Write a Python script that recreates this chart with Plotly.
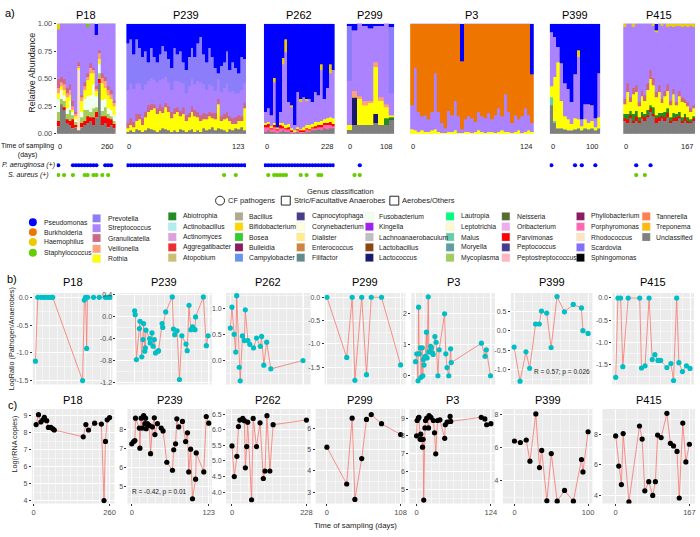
import plotly.graph_objects as go

W, H = 700, 537
FONT = "Liberation Sans, Arial, sans-serif"
TICK_GRAY = "#4D4D4D"

# ---------------------------------------------------------------- data
patients = ["P18", "P239", "P262", "P299", "P3", "P399", "P415"]
max_day = [260, 123, 228, 108, 124, 100, 167]

cf_pathogens = ["Pseudomonas", "Burkholderia", "Haemophilus", "Staphylococcus"]
anaerobes = ["Prevotella", "Streptococcus", "Granulicatella", "Veillonella", "Rothia"]
others = ["Abiotrophia", "Actinobacillus", "Actinomyces", "Aggregatibacter", "Atopobium",
          "Bacillus", "Bifidobacterium", "Bosea", "Bulleidia", "Campylobacter",
          "Capnocytophaga", "Corynebacterium", "Dialister", "Enterococcus", "Filifactor",
          "Fusobacterium", "Kingella", "Lachnoanaerobaculum", "Lactobacillus", "Lactococcus",
          "Lautropia", "Leptotrichia", "Malus", "Moryella", "Mycoplasma",
          "Neisseria", "Oribacterium", "Parvimonas", "Peptococcus", "Peptostreptococcus",
          "Phyllobacterium", "Porphyromonas", "Rhodococcus", "Scardovia", "Sphingomonas",
          "Tannerella", "Treponema", "Unclassified"]

genus_colors = {
    "Pseudomonas": "#0000FF", "Burkholderia": "#EE7600", "Haemophilus": "#EEC900",
    "Staphylococcus": "#66CD00",
    "Prevotella": "#8C7EFA", "Streptococcus": "#AB82FF", "Granulicatella": "#CD6889",
    "Veillonella": "#FFA07A", "Rothia": "#FFFF00",
    "Abiotrophia": "#228B22", "Actinobacillus": "#AEEEEE", "Actinomyces": "#DDA0DD",
    "Aggregatibacter": "#EE2C2C", "Atopobium": "#CDBE70",
    "Bacillus": "#B0AB8E", "Bifidobacterium": "#FFD700", "Bosea": "#32CD32",
    "Bulleidia": "#8B1C62", "Campylobacter": "#6495ED",
    "Capnocytophaga": "#483D8B", "Corynebacterium": "#FFFFE0", "Dialister": "#FFEC8B",
    "Enterococcus": "#CD853F", "Filifactor": "#5F8B8B",
    "Fusobacterium": "#F0FFF0", "Kingella": "#A020F0", "Lachnoanaerobaculum": "#BEBEBE",
    "Lactobacillus": "#8B4513", "Lactococcus": "#191970",
    "Lautropia": "#00FF7F", "Leptotrichia": "#FFFACD", "Malus": "#66CDAA",
    "Moryella": "#5F9EA0", "Mycoplasma": "#A2CD5A",
    "Neisseria": "#556B2F", "Oribacterium": "#EEAEEE", "Parvimonas": "#FF0000",
    "Peptococcus": "#473C8B", "Peptostreptococcus": "#FFB6C1",
    "Phyllobacterium": "#8B1C62", "Porphyromonas": "#FF69B4", "Rhodococcus": "#FFE4C4",
    "Scardovia": "#836FFF", "Sphingomonas": "#000000",
    "Tannerella": "#FF7F50", "Treponema": "#FFB90F", "Unclassified": "#7F7F7F",
}

# --- panel a: relative abundance per sample (stacked) ---
p18_unclassified = [.07, .27, .22, .10, .08, .05, .06, .03, .06, .08, .10, .12, .08, .15, .46, .08, .10, .06, .08, .05]
p18_parvimonas = [.05, 0, .02, .03, .04, .08, .02, 0, .04, .04, .06, .03, .07, .05, .04, .08, .06, .08, .05, .04]
p18_mycoplasma = [.08, .05, .06, .05, .10, .04, .03, 0, .05, .10, .06, .05, .08, .04, .05, .05, .08, .04, .03, .03]
p18_fusobacterium = [.12, .08, .05, .05, .08, .03, .02, 0, .05, .10, .12, .15, .22, .10, .08, .10, .08, .05, .06, .05]
p18_rhodococcus = [0, 0, 0, 0, 0, 0, 0, .55, 0, 0, 0, 0, 0, 0, 0, 0, 0, 0, 0, 0]
p18_rothia = [.05, .03, .05, .10, .05, .02, .03, .02, .10, .08, .15, .20, .10, .05, .05, .15, .10, .12, .10, .08]
p18_veillonella = [.05, .04, .05, .04, .05, .03, .02, .02, .03, .03, .03, .05, .03, .02, .05, .05, .06, .05, .04, .03]
p18_granulicatella = [.08, .05, .05, .05, .05, .05, .02, .03, .02, .04, .03, .04, .02, .02, .03, .04, .04, .03, .04, .02]
p18_streptococcus = [.45, .48, .50, .58, .55, .70, .80, .35, .65, .53, .42, .36, .40, .47, .24, .45, .48, .57, .60, .70]
p18_staphylococcus = [0, 0, 0, 0, 0, 0, 0, 0, 0, 0, .03, 0, 0, 0, 0, 0, 0, 0, 0, 0]
p18_haemophilus = [.05, 0, 0, 0, 0, 0, 0, 0, 0, 0, 0, 0, 0, 0, 0, 0, 0, 0, 0, 0]
p18_pseudomonas = [0, 0, 0, 0, 0, 0, 0, 0, 0, 0, 0, 0, 0, .10, 0, 0, 0, 0, 0, 0]

p239_unclassified = [.02, .03, .02, .04, .03, .02, .03, .05, .04, .03, .02, .03, .05, .04, .03, .02, .03, .02, .04, .03, .02,
                     .03, .04, .02, .03, .02, .05, .03, .04, .06, .03, .05, .04, .03, .02, .04, .03, .05, .04, .06, .03]
p239_rothia = [.03, .05, .04, .08, .10, .06, .12, .15, .18, .20, .16, .18, .14, .20, .17, .12, .15, .18, .12, .15, .10,
               .12, .16, .14, .12, .10, .08, .10, .12, .08, .10, .22, .08, .10, .12, .08, .06, .04, .08, .06, .20]
p239_granulicatella = [.05, .06, .05, .06, .05, .06, .05, .06, .05, .04, .05, .06, .05, .04, .05, .06, .05, .04, .05, .06, .05,
                       .04, .05, .06, .05, .05, .06, .05, .04, .05, .06, .05, .04, .05, .06, .04, .05, .06, .05, .04, .05]
p239_streptococcus = [.30, .32, .30, .28, .28, .26, .25, .22, .24, .22, .24, .22, .26, .24, .22, .20, .25, .24, .26, .22, .20,
                      .24, .25, .23, .28, .30, .26, .22, .25, .24, .20, .18, .22, .24, .26, .22, .25, .22, .20, .24, .18]
p239_prevotella = [.42, .40, .31, .40, .32, .30, .30, .17, .27, .21, .18, .23, .30, .23, .21, .20, .30, .24, .28, .19, .21,
                   .27, .28, .25, .34, .41, .27, .25, .33, .27, .21, .05, .24, .23, .29, .20, .26, .23, .18, .30, .22]
p239_pseudomonas = [.18, .14, .28, .14, .22, .30, .25, .35, .22, .30, .35, .28, .20, .25, .32, .40, .22, .28, .25, .35, .42,
                    .30, .22, .30, .18, .12, .28, .35, .22, .30, .40, .45, .38, .35, .25, .42, .35, .40, .45, .30, .32]

p262_unclassified = [.02, .03, .02, .02, .01, .02, .03, .02, .02, .01, .01, .02, .01, .01, .02, .02, .03, .03, .04, .03, .05, .04, .05, .05]
p262_porphyromonas = [.04, .03, .02, .04, .02, .03, .02, .02, .02, .01, .01, .01, .01, .01, .02, .01, .02, .02, .02, .03, .03, .04, .03, .02]
p262_parvimonas = [.02, .03, .01, .02, .01, .03, .02, .01, .02, .01, 0, .01, .01, .01, .01, .01, .01, .02, .02, .02, .02, .02, .03, .02]
p262_rothia = [.02, .02, .02, .02, .01, .02, .03, .03, .03, .02, .01, .02, .01, .03, .03, .04, .03, .04, .03, .04, .03, .04, .04, .05]
p262_streptococcus = [.10, .12, .10, .37, .01, .10, .53, .66, .20, .19, .05, .32, .25, .27, .22, .24, .20, .27, .24, .46, .19, .28, .40, .44]
p262_haemophilus = [0, 0, 0, .04, 0, 0, .06, .12, 0, .02, 0, 0, .03, 0, .02, 0, 0, 0, 0, .05, 0, 0, .08, 0]
p262_pseudomonas = [.80, .77, .83, .49, .94, .80, .31, .14, .71, .74, .92, .62, .68, .67, .68, .68, .71, .62, .65, .37, .68, .58, .37, .42]

p299_unclassified = [.03, .08, .08, .08, .08, .10, .08, .08, .13]
p299_lactococcus = [0, .25, 0, 0, 0, .08, 0, 0, 0]
p299_abiotrophia = [0, 0, 0, 0, 0, 0, 0, .06, .02]
p299_rothia = [.05, 0, .24, .18, .20, .43, .22, .10, .02]
p299_veillonella = [0, .06, .02, .04, .02, .04, .03, .03, 0]
p299_streptococcus = [.40, .55, .66, .68, .66, .33, .65, .73, .20]
p299_prevotella = [.50, 0, 0, 0, 0, 0, 0, 0, .60]
p299_pseudomonas = [.02, .06, 0, .02, .04, .02, .02, 0, .03]

p3_rothia = [.04, .03, .02, .03, .02, .02, .03, .04, .02, .01, .01, .02, .02, .03, .01, .01, .02, .02, .01,
             .02, .03, .02, .01, .02, .02, .01, .02, .03, .02, .02, .01, .02, .03, .01, .02, .03, .02]
p3_streptococcus = [.22, .57, .18, .13, .15, .11, .17, .51, .18, .09, .04, .19, .15, .27, .15, .03, .11, .14, .13,
                    .09, .17, .14, .13, .17, .11, .16, .21, .13, .34, .18, .09, .15, .10, .15, .21, .14, .08]
p3_burkholderia = [.74, .40, .80, .84, .83, .87, .80, .45, .80, .90, .95, .79, .83, .70, .84, .62, .87, .84, .86,
                   .89, .80, .84, .86, .81, .87, .83, .77, .84, .64, .80, .90, .83, .87, .84, .77, .83, .44]
p3_pseudomonas = [0, 0, 0, 0, 0, 0, 0, 0, 0, 0, 0, 0, 0, 0, 0, .34, 0, 0, 0,
                  0, 0, 0, 0, 0, 0, 0, 0, 0, 0, 0, 0, 0, 0, 0, 0, 0, .46]

p399_unclassified = [.26, .10, .05, .05, .04, .03, .03, .04, .05, .03, .05, .04, .05, .03, .05]
p399_malus = [.07, .02, 0, 0, 0, 0, 0, 0, 0, 0, 0, 0, 0, 0, 0]
p399_rothia = [.10, .40, .60, .25, .12, .10, .06, .10, .08, .04, .08, .06, .07, .03, .10]
p399_streptococcus = [.49, .36, .14, .34, .30, .28, .20, .40, .57, .06, .14, .17, .14, .08, .40]
p399_haemophilus = [0, 0, 0, 0, 0, 0, 0, 0, .06, 0, 0, 0, 0, 0, 0]
p399_pseudomonas = [.08, .12, .21, .36, .54, .59, .71, .46, .24, .87, .73, .73, .74, .86, .45]

p415_unclassified = [.12, .10, .14, .10, .12, .10, .14, .12, .15, .20, .16, .10, .12, .14, .12, .15, .10, .12, .12, .14, .10, .12, .10, .10, .12]
p415_parvimonas = [.02, .03, .03, .02, .04, .02, .02, .03, .02, .03, .02, .04, .03, .02, .03, .04, .02, .02, .03, .02, .02, .03, .02, .01, .02]
p415_abiotrophia = [.04, .05, .04, .06, .05, .03, .04, .03, .05, .03, .06, .03, .04, .03, .05, .04, .03, .05, .03, .04, .03, .03, .03, .02, .02]
p415_rothia = [.09, .20, .08, .18, .17, .10, .14, .12, .18, .24, .20, .16, .19, .09, .14, .16, .11, .17, .08, .14, .14, .10, .10, .07, .07]
p415_granulicatella = [.05, .08, .04, .06, .06, .04, .05, .05, .06, .08, .07, .05, .06, .04, .05, .06, .04, .05, .03, .05, .04, .04, .04, .03, .03]
p415_streptococcus = [.65, .54, .67, .55, .56, .71, .61, .65, .54, .42, .47, .54, .56, .66, .61, .52, .68, .56, .69, .59, .64, .66, .68, .75, .71]
p415_haemophilus = [.03, 0, 0, .03, 0, 0, 0, 0, 0, 0, .02, .02, 0, .02, 0, .03, .02, .03, .02, .02, .03, .02, .03, .02, .03]
p415_pseudomonas = [0, 0, 0, 0, 0, 0, 0, 0, 0, 0, 0, .06, 0, 0, 0, 0, 0, 0, 0, 0, 0, 0, 0, 0, 0]

# culture-positive samples (sample index)
p18_pa_pos = [0, 5, 6, 7, 8, 9, 10, 11, 12, 13, 16, 17, 18]
p18_sa_pos = [0, 2, 5, 9, 10, 12, 13, 15, 17]
p239_pa_pos = list(range(41))
p239_sa_pos = [33, 37]
p262_pa_pos = list(range(24))
p262_sa_pos = [1, 3, 4, 5, 6, 7, 12, 14, 18, 19]
p299_pa_pos = [2]
p299_sa_pos = [1, 2]
p3_pa_pos = []
p3_sa_pos = []
p399_pa_pos = [0, 7, 9, 13]
p399_sa_pos = []
p415_pa_pos = [4, 9]
p415_sa_pos = [4, 7]

# --- panel b: log ratio pathogen / anaerobes ---
p18_b_days = [0, 8, 20, 29, 37, 46, 54, 60, 164, 170, 174, 178, 181, 202, 222, 243, 251, 260]
p18_b_ratio = [-1.15, 0, 0, 0, 0, 0, 0, 0, -1.5, -0.05, 0, -0.92, 0, 0, 0, 0, 0, 0]
p239_b_days = [0, 1, 3, 8, 9, 12, 14, 15, 17, 18, 19, 25, 26, 29, 31, 33, 35, 39, 40, 46,
               47, 52, 63, 65, 67, 71, 75, 79, 86, 88, 91, 94, 97, 101, 102, 115, 120, 123]
p239_b_ratio = [0.1, 0.03, -0.78, -0.22, -0.09, -0.73, -0.42, -0.13, -0.63, -0.57, -0.25, -0.4, -0.48, -0.3,
                -0.54, -0.42, -0.66, -0.63, -0.62, -0.13, -0.2, 0.08, 0.35, -0.23, -0.33, -0.26, -1.14, -0.35,
                -0.5, -0.62, 0.2, -0.24, -0.19, -0.24, -0.01, 0.35, -0.53, -0.35]
p262_b_days = [0, 5, 12, 17, 20, 28, 31, 38, 44, 47, 55, 61, 73, 82, 94, 98, 105, 114, 127, 228]
p262_b_ratio = [0.62, 1.02, 0.5, 0.16, 1.24, -0.13, -0.39, 0.47, 0.38, 0.97, 0.38, 0.31, 0.24, 0.43, 0.27,
                0.46, -0.09, 0.35, -0.16, 0.0]
p299_b_days = [0, 29, 37, 41, 51, 58, 65, 80, 108]
p299_b_ratio = [0.0, -1.29, 0.0, -1.78, 0.0, -1.66, 0.0, 0.0, -1.45]
p3_b_days = [0, 2, 4, 5, 6, 8, 9, 11, 12, 13, 14, 16, 18, 19, 21, 22, 25, 26, 28, 29, 32, 34, 37, 39,
             48, 50, 52, 55, 58, 59, 109, 115, 117, 124]
p3_b_ratio = [0.45, 0.7, -0.16, 2.19, 0.7, 0.89, -0.05, 0.89, 0.0, 0.52, 0.34, 0.62, 1.39, 0.57, 2.52, 0.76,
              0.94, 0.89, 0.73, 0.68, 1.25, 1.07, 0.0, 0.83, 1.98, 0.7, 0.26, 0.0, 0.86, 0.42, 1.04, 0.62, 0.83, 0.0]
p399_b_days = [0, 8, 16, 21, 29, 34, 37, 44, 50, 58, 68, 80, 91, 93, 100]
p399_b_ratio = [-0.42, -1.29, -0.54, -0.96, 0.17, 0.17, 0.5, 0.45, -0.43, 0.87, 0.48, 0.67, 0.58, 0.0, -0.07]
p415_b_days = [0, 5, 11, 16, 28, 54, 58, 66, 75, 82, 88, 95, 101, 115, 124, 130, 137, 142, 150, 159, 167]
p415_b_ratio = [-1.78, 0, 0, -1.54, 0, 0, -1.57, -1.52, 0, -1.38, -1.27, -1.4, -1.4, -1.56, -1.47, -1.85, 0,
                -1.45, -1.65, -1.52, -1.58]

# --- panel c: log rRNA copies ---
p18_c_days = [9, 17, 25, 32, 37, 45, 51, 59, 66, 71, 170, 179, 188, 209, 232, 241, 246, 252, 260]
p18_c_copies = [8.47, 9.05, 8.62, 8.75, 8.9, 8.7, 8.3, 8.3, 8.22, 8.15, 7.75, 8.47, 8.15, 8.55, 8.5, 4.0, 7.48, 8.75, 8.88]
p239_c_days = [0, 3, 5, 6, 12, 13, 15, 17, 19, 21, 22, 23, 25, 28, 30, 33, 36, 37, 41, 47,
               50, 56, 65, 67, 70, 72, 75, 81, 86, 89, 91, 94, 97, 102, 103, 115, 119, 123]
p239_c_copies = [7.25, 7.37, 7.42, 8.6, 8.08, 7.02, 8.6, 8.08, 8.74, 8.31, 8.6, 8.05, 8.31, 8.22, 6.73, 8.14,
                 8.62, 7.74, 8.31, 8.08, 7.93, 6.28, 5.86, 6.94, 7.25, 8.57, 8.14, 8.43, 7.37, 7.83, 5.77, 6.97,
                 4.36, 5.39, 6.77, 5.77, 8.69, 8.34]
p262_c_days = [0, 7, 15, 20, 24, 33, 38, 41, 45, 48, 60, 65, 75, 86, 96, 101, 107, 116, 126, 228]
p262_c_copies = [5.48, 4.5, 5.15, 6.1, 6.31, 6.36, 6.29, 4.78, 5.46, 6.24, 3.76, 6.36, 5.46, 6.22, 4.44, 4.68,
                 6.45, 4.68, 6.16, 6.31]
p299_c_days = [0, 29, 37, 41, 51, 58, 65, 80, 108]
p299_c_copies = [5.12, 3.38, 6.49, 2.65, 4.58, 6.43, 6.66, 6.23, 5.72]
p3_c_days = [0, 1, 3, 4, 6, 7, 8, 10, 11, 12, 14, 15, 17, 20, 21, 24, 28, 30, 32, 35, 39, 47, 48, 51, 56, 57,
             108, 114, 117, 124]
p3_c_copies = [8.01, 8.87, 9.0, 9.05, 7.81, 8.1, 7.81, 7.37, 7.81, 4.4, 8.45, 8.87, 9.0, 8.45, 9.15, 9.05, 8.87,
               8.18, 7.0, 8.87, 8.91, 7.87, 8.63, 8.78, 9.1, 8.82, 9.05, 8.96, 8.63, 8.69]
p399_c_days = [0, 8, 16, 21, 29, 34, 37, 44, 50, 58, 68, 80, 91, 93, 100]
p399_c_copies = [6.4, 6.31, 6.46, 5.18, 8.04, 4.79, 5.83, 2.78, 5.64, 2.76, 3.41, 2.76, 5.28, 4.53, 6.96]
p415_c_days = [0, 7, 13, 17, 30, 54, 60, 66, 75, 84, 90, 95, 103, 116, 124, 131, 139, 144, 152, 159, 167]
p415_c_copies = [7.91, 5.93, 4.71, 8.06, 3.57, 8.56, 7.7, 4.3, 4.9, 4.0, 4.9, 7.96, 7.8, 9.39, 7.42, 7.25, 6.89,
                 3.83, 8.75, 6.2, 7.36]

# axis tick labels
b_yticks = [[0.0, -0.5, -1.0, -1.5], [0.4, 0.0, -0.4, -0.8, -1.2], [1.0, 0.5, 0.0], [0.0, -0.5, -1.0, -1.5],
            [2, 1, 0], [0.5, 0.0, -0.5, -1.0], [0.0, -0.5, -1.0, -1.5]]
b_ylabels = [["0.0", "-0.5", "-1.0", "-1.5"], ["0.4", "0.0", "-0.4", "-0.8", "-1.2"], ["1.0", "0.5", "0.0"],
             ["0.0", "-0.5", "-1.0", "-1.5"], ["2", "1", "0"], ["0.5", "0.0", "-0.5", "-1.0"],
             ["0.0", "-0.5", "-1.0", "-1.5"]]
c_yticks = [[9, 8, 7, 6, 5, 4], [8, 7, 6, 5], [6.5, 6.0, 5.5, 5.0, 4.5, 4.0], [6, 5, 4, 3], [9, 8, 7, 6, 5],
            [8, 6, 4], [8, 6, 4]]
c_ylabels = [["9", "8", "7", "6", "5", "4"], ["8", "7", "6", "5"], ["6.5", "6.0", "5.5", "5.0", "4.5", "4.0"],
             ["6", "5", "4", "3"], ["9", "8", "7", "6", "5"], ["8", "6", "4"], ["8", "6", "4"]]

# ---------------------------------------------------------------- assembly
a_bars = [
    {"Unclassified": p18_unclassified, "Parvimonas": p18_parvimonas, "Mycoplasma": p18_mycoplasma,
     "Fusobacterium": p18_fusobacterium, "Rhodococcus": p18_rhodococcus, "Rothia": p18_rothia,
     "Veillonella": p18_veillonella, "Granulicatella": p18_granulicatella, "Streptococcus": p18_streptococcus,
     "Staphylococcus": p18_staphylococcus, "Haemophilus": p18_haemophilus, "Pseudomonas": p18_pseudomonas},
    {"Unclassified": p239_unclassified, "Rothia": p239_rothia, "Granulicatella": p239_granulicatella,
     "Streptococcus": p239_streptococcus, "Prevotella": p239_prevotella, "Pseudomonas": p239_pseudomonas},
    {"Unclassified": p262_unclassified, "Porphyromonas": p262_porphyromonas, "Parvimonas": p262_parvimonas,
     "Rothia": p262_rothia, "Streptococcus": p262_streptococcus, "Haemophilus": p262_haemophilus,
     "Pseudomonas": p262_pseudomonas},
    {"Unclassified": p299_unclassified, "Lactococcus": p299_lactococcus, "Abiotrophia": p299_abiotrophia,
     "Rothia": p299_rothia, "Veillonella": p299_veillonella, "Streptococcus": p299_streptococcus,
     "Prevotella": p299_prevotella, "Pseudomonas": p299_pseudomonas},
    {"Rothia": p3_rothia, "Streptococcus": p3_streptococcus, "Burkholderia": p3_burkholderia,
     "Pseudomonas": p3_pseudomonas},
    {"Unclassified": p399_unclassified, "Malus": p399_malus, "Rothia": p399_rothia,
     "Streptococcus": p399_streptococcus, "Haemophilus": p399_haemophilus, "Pseudomonas": p399_pseudomonas},
    {"Unclassified": p415_unclassified, "Parvimonas": p415_parvimonas, "Abiotrophia": p415_abiotrophia,
     "Rothia": p415_rothia, "Granulicatella": p415_granulicatella, "Streptococcus": p415_streptococcus,
     "Haemophilus": p415_haemophilus, "Pseudomonas": p415_pseudomonas},
]
a_pa = [p18_pa_pos, p239_pa_pos, p262_pa_pos, p299_pa_pos, p3_pa_pos, p399_pa_pos, p415_pa_pos]
a_sa = [p18_sa_pos, p239_sa_pos, p262_sa_pos, p299_sa_pos, p3_sa_pos, p399_sa_pos, p415_sa_pos]
b_data = [(p18_b_days, p18_b_ratio), (p239_b_days, p239_b_ratio), (p262_b_days, p262_b_ratio),
          (p299_b_days, p299_b_ratio), (p3_b_days, p3_b_ratio), (p399_b_days, p399_b_ratio),
          (p415_b_days, p415_b_ratio)]
c_data = [(p18_c_days, p18_c_copies), (p239_c_days, p239_c_copies), (p262_c_days, p262_c_copies),
          (p299_c_days, p299_c_copies), (p3_c_days, p3_c_copies), (p399_c_days, p399_c_copies),
          (p415_c_days, p415_c_copies)]
stack_order = cf_pathogens + anaerobes + others  # top -> bottom

# ---------------------------------------------------------------- layout geometry (pixels)
A_BOX = [(57, 116), (127, 247), (265, 336), (348, 396), (412, 536), (552, 603), (626, 698)]
A_Y = (20, 132)
DOT_Y = (158, 180)
B_BOX = [(33, 113), (117, 213), (227, 312), (326, 407), (413, 497), (513, 595), (615, 697)]
B_Y = (294, 387)
C_BOX = [(32, 115), (128, 213), (227, 312), (317, 407), (411, 497), (505, 595), (605, 698)]
C_Y = (412, 508)
b_xrange = [[-9, 268], [-30.3, 129.6], [-13.5, 252], [-3.4, 114.8], [-7.2, 131.2], [-4.5, 105.9], [-7.5, 176]]
c_xrange = [[-5.7, 276.9], [-6.9, 128.3], [-18.3, 241], [-16.5, 114.8], [-12.2, 130.7], [-15.8, 105.9], [-30, 179.7]]
b_yrange = [[-1.57, 0.076], [-1.23, 0.42], [-0.46, 1.29], [-1.87, 0.09], [-0.28, 2.64], [-1.375, 0.96], [-1.94, 0.11]]
c_yrange = [[3.83, 9.38], [4.11, 9.08], [3.64, 6.66], [2.46, 6.92], [4.21, 9.51], [2.62, 8.33], [3.47, 9.67]]
x_grid_step = [25, 12.5, 25, 12.5, 12.5, 12.5, 25]


def xdom(x0, x1):
    return [x0 / W, x1 / W]


def ydom(y0, y1):
    return [1 - y1 / H, 1 - y0 / H]


def xn(n):
    return "x" if n == 1 else f"x{n}"


def yn(n):
    return "y" if n == 1 else f"y{n}"


def xk(n):
    return "xaxis" if n == 1 else f"xaxis{n}"


def yk(n):
    return "yaxis" if n == 1 else f"yaxis{n}"


def mids(vals, lo, hi):
    v = sorted(vals)
    step = v[1] - v[0]
    ext = [v[0] - step] + v + [v[-1] + step]
    m = [(a + b) / 2 for a, b in zip(ext[:-1], ext[1:])]
    return [t for t in m if lo <= t <= hi]


def grid_vals(step, lo, hi, skip):
    out = []
    k = 1
    while k * step < hi:
        v = k * step
        if all(abs(v - s) > 1e-6 for s in skip):
            out.append(v)
        k += 1
    return out


def ann(t, x, y, size, color="#000000", xanchor="center", angle=0, xref="paper", yref="paper", align="center"):
    if xref == "paper":
        x = x / W
    if yref == "paper":
        y = 1 - y / H
    return dict(text=t, x=x, y=y, xref=xref, yref=yref, showarrow=False, xanchor=xanchor, yanchor="middle",
                textangle=angle, align=align, font=dict(family=FONT, size=size, color=color))


fig = go.Figure()
layout = {}
annotations = []
shapes = []

# ---- panel a ----
for i, bars in enumerate(a_bars):
    n = i + 1
    nb = len(next(iter(bars.values())))
    xs = list(range(nb))
    for g in reversed(stack_order):
        if g in bars:
            fig.add_trace(go.Bar(x=xs, y=bars[g], name=g, showlegend=False,
                                 marker=dict(color=genus_colors[g], line=dict(width=0.3, color=genus_colors[g])),
                                 xaxis=xn(n), yaxis=yn(n)))
    # culture positive dots
    if a_pa[i]:
        fig.add_trace(go.Scatter(x=a_pa[i], y=[1] * len(a_pa[i]), mode="markers",
                                 marker=dict(color="#0000FF", size=4.2), xaxis=xn(n), yaxis=yn(7 + n),
                                 showlegend=False))
    if a_sa[i]:
        fig.add_trace(go.Scatter(x=a_sa[i], y=[0] * len(a_sa[i]), mode="markers",
                                 marker=dict(color="#66CD00", size=4.2), xaxis=xn(n), yaxis=yn(7 + n),
                                 showlegend=False))
    layout[xk(n)] = dict(domain=xdom(*A_BOX[i]), anchor=yn(n), range=[-0.5, nb - 0.5], showgrid=False,
                         zeroline=False, showticklabels=False, ticks="", showline=False)
    ya = dict(domain=ydom(*A_Y), anchor=xn(n), range=[0, 1], showgrid=False, zeroline=False, showline=False)
    if i == 0:
        ya.update(tickmode="array", tickvals=[0, 0.25, 0.5, 0.75, 1.0],
                  ticktext=["0.00", "0.25", "0.50", "0.75", "1.00"], ticks="outside", ticklen=2,
                  tickcolor="#333333", tickfont=dict(family=FONT, size=7.5, color=TICK_GRAY))
    else:
        ya.update(showticklabels=False, ticks="")
    layout[yk(n)] = ya
    layout[yk(7 + n)] = dict(domain=ydom(*DOT_Y), anchor=xn(n), range=[-0.6, 1.6], visible=False)
    x0, x1 = A_BOX[i]
    annotations.append(ann(patients[i], (x0 + x1) / 2, 11, 11))
    annotations.append(ann("0", x0 - 1, 145, 7.5, color="#222222", xanchor="left"))
    annotations.append(ann(str(max_day[i]), x1 + 1, 145, 7.5, color="#222222", xanchor="right"))

# ---- panels b and c ----
for panel, boxes, ybox, data, xr, yr, yt, yl, base_x, base_y, col in [
    ("b", B_BOX, B_Y, b_data, b_xrange, b_yrange, b_yticks, b_ylabels, 7, 14, "#00BFC4"),
    ("c", C_BOX, C_Y, c_data, c_xrange, c_yrange, c_yticks, c_ylabels, 14, 21, "#000000"),
]:
    for i in range(7):
        nx, ny = base_x + i + 1, base_y + i + 1
        days, vals = data[i]
        fig.add_trace(go.Scatter(x=days, y=vals, mode="lines+markers",
                                 line=dict(color="#F8766D", width=0.8),
                                 marker=dict(color=col, size=5.2), xaxis=xn(nx), yaxis=yn(ny),
                                 showlegend=False))
        mx = max_day[i]
        xa = dict(domain=xdom(*boxes[i]), anchor=yn(ny), range=xr[i], tickmode="array", tickvals=[0, mx],
                  ticktext=["0", str(mx)], showgrid=True, gridcolor="white", gridwidth=1, zeroline=False,
                  showline=False,
                  minor=dict(tickmode="array", tickvals=grid_vals(x_grid_step[i], xr[i][0], xr[i][1], [0, mx]),
                             showgrid=True, gridcolor="white", gridwidth=0.5, ticks=""))
        if panel == "b":
            xa.update(showticklabels=False, ticks="")
        else:
            xa.update(ticks="outside", ticklen=2, tickcolor="#333333",
                      tickfont=dict(family=FONT, size=7.5, color=TICK_GRAY))
        layout[xk(nx)] = xa
        layout[yk(ny)] = dict(domain=ydom(*ybox), anchor=xn(nx), range=yr[i], tickmode="array",
                              tickvals=yt[i], ticktext=yl[i], ticks="outside", ticklen=2, tickcolor="#333333",
                              tickfont=dict(family=FONT, size=7, color=TICK_GRAY), showgrid=True,
                              gridcolor="white", gridwidth=1, zeroline=False, showline=False,
                              minor=dict(tickmode="array", tickvals=mids(yt[i], yr[i][0], yr[i][1]),
                                         showgrid=True, gridcolor="white", gridwidth=0.5, ticks=""))
        shapes.append(dict(type="rect", xref=f"{xn(nx)} domain", yref=f"{yn(ny)} domain", x0=0, x1=1, y0=0, y1=1,
                           fillcolor="#EBEBEB", line=dict(width=0), layer="below"))
        x0, x1 = boxes[i]
        annotations.append(ann(patients[i], (x0 + x1) / 2, 283 if panel == "b" else 403, 11))

# correlation labels
annotations.append(ann("R = 0.57; p = 0.026", 65, -1.05, 6.5, color="#222222", xref=xn(13), yref=yn(20)))
annotations.append(ann("R = -0.42, p = 0.01", 45, 4.74, 6.5, color="#222222", xref=xn(16), yref=yn(23)))

# ---- panel labels and axis titles ----
annotations += [
    ann("a)", 10, 9, 11),
    ann("b)", 12, 280, 11),
    ann("c)", 13, 408, 11),
    ann("Relative Abundance", 32, 70, 9, color="#222222", angle=-90),
    ann("LogRatio (Pathogen/Anaerobes)", 11, 340, 7.2, color="#222222", angle=-90),
    ann("Log(rRNA copies)", 15, 447, 7.2, color="#222222", angle=-90),
    ann("Time of sampling (days)", 357, 530, 7.8, color="#222222"),
    ann("Time of sampling<br>(days)", 27.5, 148.5, 7, color="#111111"),
    ann("<i>P. aeruginosa (+)</i>", 28.5, 164, 7, color="#111111"),
    ann("<i>S. aureus (+)</i>", 28.5, 174, 7, color="#111111"),
]

# ---- genus legend ----
annotations.append(ann("Genus classification", 342, 191, 7.5, color="#222222"))
annotations.append(ann("CF pathogens", 227, 200, 7.5, color="#222222", xanchor="left"))
annotations.append(ann("Stric/Facultative Anaerobes", 293, 200, 7.5, color="#222222", xanchor="left"))
annotations.append(ann("Aerobes/Others", 402, 200, 7.5, color="#222222", xanchor="left"))


def circ(cx, cy, r, fill, line_col, lw):
    return dict(type="circle", xref="paper", yref="paper", x0=(cx - r) / W, x1=(cx + r) / W,
                y0=1 - (cy + r) / H, y1=1 - (cy - r) / H, fillcolor=fill, line=dict(color=line_col, width=lw))


def sq(cx, cy, h, fill, line_col, lw):
    return dict(type="rect", xref="paper", yref="paper", x0=(cx - h) / W, x1=(cx + h) / W,
                y0=1 - (cy + h) / H, y1=1 - (cy - h) / H, fillcolor=fill, line=dict(color=line_col, width=lw))


shapes.append(circ(221, 200, 4.5, "rgba(0,0,0,0)", "#111111", 0.9))
shapes.append(sq(287, 200, 4.5, "rgba(0,0,0,0)", "#111111", 0.9))
shapes.append(sq(396, 200, 4.5, "rgba(0,0,0,0)", "#111111", 0.9))

rows5 = [216, 226.5, 237, 247.5, 258]
legend_cols = [
    (33, 42, cf_pathogens, [222, 232, 242, 253], "circle"),
    (97, 106, anaerobes, [218, 228, 238, 249, 259], "square"),
    (173, 182, others[0:5], rows5, "square"),
    (240, 248, others[5:10], rows5, "square"),
    (302, 311, others[10:15], rows5, "square"),
    (371, 379, others[15:20], rows5, "square"),
    (452, 461, others[20:25], rows5, "square"),
    (508, 517, others[25:30], rows5, "square"),
    (583, 592, others[30:35], rows5, "square"),
    (649, 657, others[35:38], rows5, "square"),
]
for kx, tx, names, rows, kind in legend_cols:
    for name, ry in zip(names, rows):
        c = genus_colors[name]
        if kind == "circle":
            shapes.append(circ(kx, ry, 4, c, c, 0))
        else:
            shapes.append(sq(kx, ry, 4, c, "rgba(200,200,200,0.6)", 0.3))
        annotations.append(ann(name, tx, ry, 6.8, color="#222222", xanchor="left"))

fig.update_layout(width=W, height=H, margin=dict(l=0, r=0, t=0, b=0), paper_bgcolor="white",
                  plot_bgcolor="rgba(0,0,0,0)", barmode="stack", bargap=0, showlegend=False,
                  font=dict(family=FONT, size=8, color=TICK_GRAY), annotations=annotations, shapes=shapes,
                  **layout)

fig.write_html("out.html", config={"displayModeBar": False, "staticPlot": True},
               post_script="document.body.style.margin='0px';document.body.style.overflow='hidden';")
